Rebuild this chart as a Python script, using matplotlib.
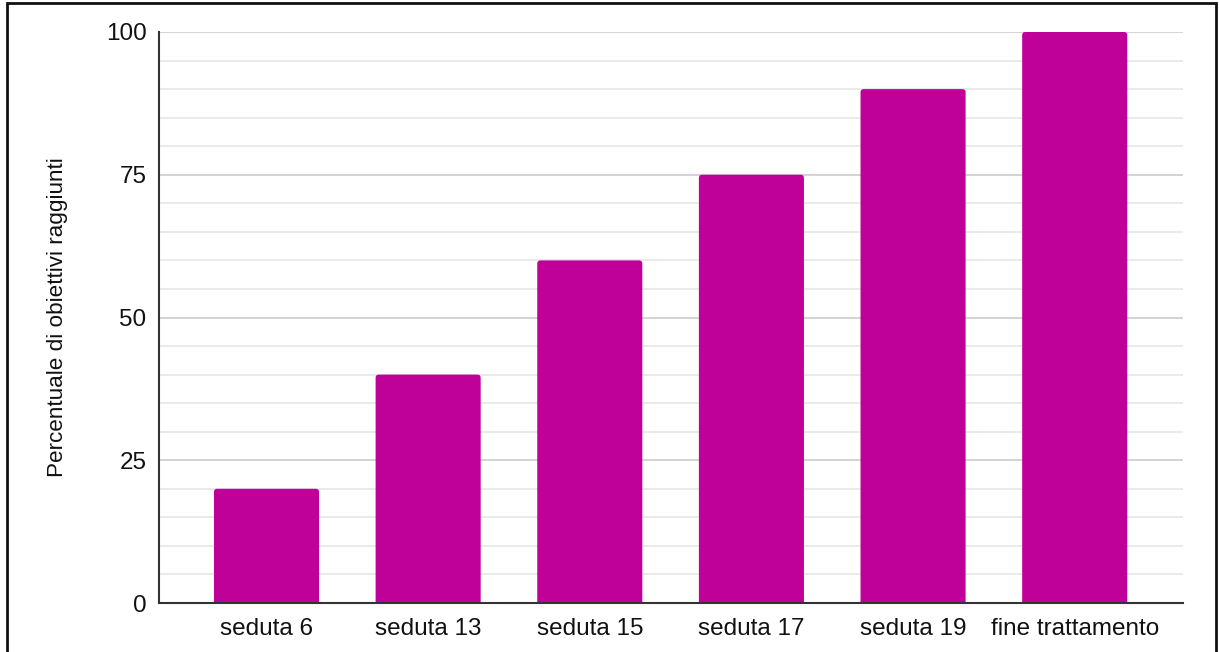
import matplotlib.pyplot as plt
from matplotlib.patches import Rectangle, FancyBboxPatch

categorie = ['seduta 6', 'seduta 13', 'seduta 15', 'seduta 17', 'seduta 19', 'fine trattamento']
percentuali = [20, 40, 60, 75, 90, 100]
tick_y = [0, 25, 50, 75, 100]

plt.rcParams['font.family'] = ['Liberation Sans', 'DejaVu Sans']

fig = plt.figure(figsize=(12.19, 6.52), dpi=100)
ax = fig.add_axes([159 / 1219, 1 - 603 / 652, (1183 - 159) / 1219, (603 - 32) / 652])

x = list(range(len(categorie)))
bars = ax.bar(x, percentuali, width=0.65, color='#bf0099', zorder=3)

ax.set_xlim(-0.665, 5.67)
ax.set_ylim(0, 100)

# angoli superiori arrotondati (il fondo sta sotto lo zero e viene tagliato)
r = 0.02
aspect = (100 / 571) / (6.335 / 1024)
for b in bars:
    bx, bw, bh = b.get_x(), b.get_width(), b.get_height()
    p = FancyBboxPatch((bx, -3), bw, bh + 3,
                       boxstyle='round,pad=0,rounding_size=%f' % r,
                       mutation_aspect=aspect, facecolor='#bf0099',
                       edgecolor='none', zorder=3)
    ax.add_patch(p)
    b.remove()

ax.set_yticks(tick_y)
ax.set_yticks([v for v in range(0, 101, 5) if v % 25 != 0], minor=True)
ax.set_xticks(x)
ax.set_xticklabels(categorie)
ax.tick_params(axis='both', which='both', length=0, labelsize=17.5, colors='#111111')
ax.tick_params(axis='y', pad=9)
ax.tick_params(axis='x', pad=11)
ax.grid(axis='y', which='major', color='#cccccc', linewidth=1.2, zorder=0)
ax.grid(axis='y', which='minor', color='#e6e6e6', linewidth=1.2, zorder=0)

for s in ['top', 'right']:
    ax.spines[s].set_visible(False)
for s in ['left', 'bottom']:
    ax.spines[s].set_color('#333333')
    ax.spines[s].set_linewidth(1.5)
ax.spines['left'].set_zorder(4)
ax.spines['bottom'].set_zorder(4)

ax.set_ylabel('Percentuale di obiettivi raggiunti', fontsize=16.2, color='#111111')
ax.yaxis.set_label_coords((68 - 159) / (1183 - 159), 0.5)

# cornice esterna
fig.patches.append(Rectangle((7 / 1219, -0.01), (1216 - 7) / 1219, 1 - 3 / 652 + 0.01,
                             transform=fig.transFigure, fill=False,
                             edgecolor='#111111', linewidth=2))

fig.savefig('out.png', dpi=100)
